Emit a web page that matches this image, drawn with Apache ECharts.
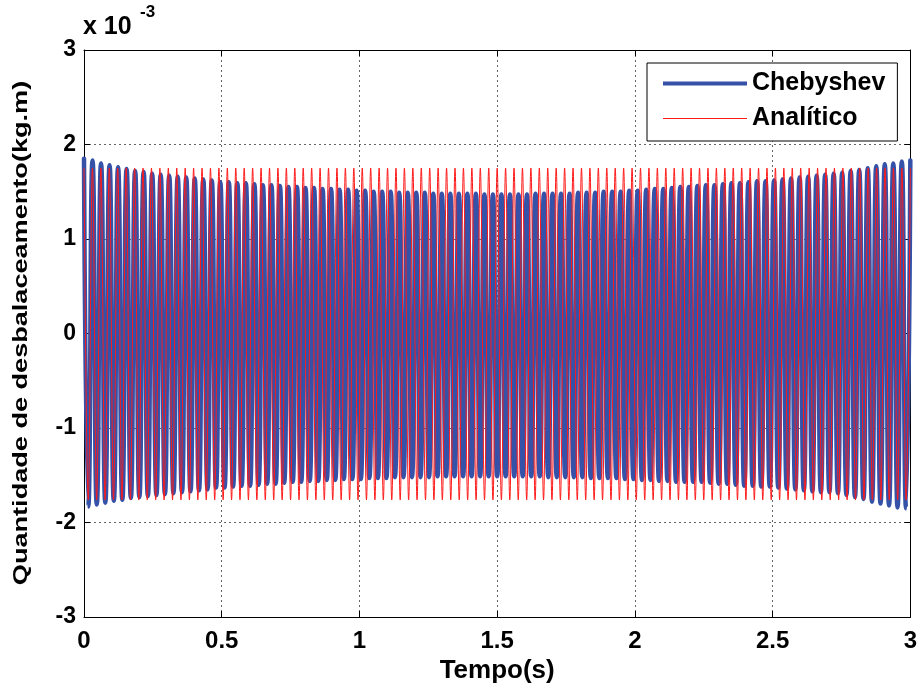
<!DOCTYPE html>
<html>
<head>
<meta charset="utf-8">
<script src="https://cdn.jsdelivr.net/npm/echarts@6/dist/echarts.min.js"></script>
<style>
html,body{margin:0;padding:0;background:#fff;}
#chart{width:920px;height:695px;}
</style>
</head>
<body>
<div id="chart"></div>
<script>
// Values in units of 1e-3 kg.m (axis multiplier "x 10^-3")
var xTicks = [0, 0.5, 1, 1.5, 2, 2.5, 3];
var yTicks = [-3, -2, -1, 0, 1, 2, 3];
var seriesNames = ['Chebyshev', 'Analítico'];
var timeSpan = 3; // seconds shown on the record

// Chebyshev: successive positive peaks (one per cycle), read from the envelope
var chebyshevMax = [
  1.85,1.83,1.80,1.78,1.76,1.74,1.72,1.71,1.69,1.68,
  1.67,1.66,1.65,1.64,1.63,1.62,1.60,1.60,1.59,1.59,
  1.58,1.57,1.57,1.56,1.55,1.55,1.54,1.54,1.53,1.53,
  1.52,1.52,1.51,1.51,1.50,1.50,1.50,1.49,1.49,1.49,
  1.49,1.48,1.48,1.48,1.48,1.48,1.48,1.47,1.47,1.47,
  1.47,1.47,1.47,1.48,1.48,1.48,1.48,1.48,1.49,1.49,
  1.49,1.50,1.50,1.50,1.51,1.51,1.52,1.53,1.53,1.54,
  1.55,1.55,1.56,1.57,1.57,1.58,1.59,1.59,1.60,1.61,
  1.61,1.62,1.63,1.64,1.65,1.66,1.67,1.68,1.69,1.70,
  1.72,1.73,1.75,1.77,1.79,1.80,1.82,1.83
];
// Chebyshev: successive negative peaks (between the positive ones)
var chebyshevMin = [
  -1.83,-1.81,-1.79,-1.77,-1.76,-1.74,-1.73,-1.72,-1.71,-1.70,
  -1.69,-1.68,-1.67,-1.66,-1.65,-1.63,-1.63,-1.62,-1.61,-1.61,
  -1.60,-1.59,-1.59,-1.58,-1.57,-1.57,-1.56,-1.56,-1.55,-1.55,
  -1.54,-1.54,-1.54,-1.53,-1.53,-1.53,-1.52,-1.52,-1.52,-1.52,
  -1.52,-1.51,-1.51,-1.51,-1.51,-1.51,-1.51,-1.51,-1.51,-1.51,
  -1.51,-1.51,-1.51,-1.51,-1.52,-1.52,-1.52,-1.52,-1.52,-1.53,
  -1.53,-1.53,-1.53,-1.54,-1.54,-1.55,-1.55,-1.56,-1.56,-1.57,
  -1.57,-1.57,-1.57,-1.58,-1.59,-1.59,-1.60,-1.61,-1.61,-1.62,
  -1.62,-1.63,-1.64,-1.65,-1.66,-1.67,-1.68,-1.68,-1.69,-1.71,
  -1.73,-1.75,-1.78,-1.80,-1.82,-1.84,-1.85
];
// Analítico: constant-amplitude peaks
var analiticoMax = [
  1.75,1.75,1.75,1.75,1.75,1.75,1.75,1.75,1.75,1.75,
  1.75,1.75,1.75,1.75,1.75,1.75,1.75,1.75,1.75,1.75,
  1.75,1.75,1.75,1.75,1.75,1.75,1.75,1.75,1.75,1.75,
  1.75,1.75,1.75,1.75,1.75,1.75,1.75,1.75,1.75,1.75,
  1.75,1.75,1.75,1.75,1.75,1.75,1.75,1.75,1.75,1.75,
  1.75,1.75,1.75,1.75,1.75,1.75,1.75,1.75,1.75,1.75,
  1.75,1.75,1.75,1.75,1.75,1.75,1.75,1.75,1.75,1.75,
  1.75,1.75,1.75,1.75,1.75,1.75,1.75,1.75,1.75,1.75,
  1.75,1.75,1.75,1.75,1.75,1.75,1.75,1.75,1.75,1.75,
  1.75,1.75,1.75,1.75,1.75,1.75,1.75,1.75,1.75
];
var analiticoMin = [
  -1.76,-1.76,-1.76,-1.76,-1.76,-1.76,-1.76,-1.76,-1.76,-1.76,
  -1.76,-1.76,-1.76,-1.76,-1.76,-1.76,-1.76,-1.76,-1.76,-1.76,
  -1.76,-1.76,-1.76,-1.76,-1.76,-1.76,-1.76,-1.76,-1.76,-1.76,
  -1.76,-1.76,-1.76,-1.76,-1.76,-1.76,-1.76,-1.76,-1.76,-1.76,
  -1.76,-1.76,-1.76,-1.76,-1.76,-1.76,-1.76,-1.76,-1.76,-1.76,
  -1.76,-1.76,-1.76,-1.76,-1.76,-1.76,-1.76,-1.76,-1.76,-1.76,
  -1.76,-1.76,-1.76,-1.76,-1.76,-1.76,-1.76,-1.76,-1.76,-1.76,
  -1.76,-1.76,-1.76,-1.76,-1.76,-1.76,-1.76,-1.76,-1.76,-1.76,
  -1.76,-1.76,-1.76,-1.76,-1.76,-1.76,-1.76,-1.76,-1.76,-1.76,
  -1.76,-1.76,-1.76,-1.76,-1.76,-1.76,-1.76,-1.76
];

// Interleave peaks: positive peak at start of each cycle, negative peak half a cycle later
function buildPeaks(maxArr, minArr) {
  var cycles = maxArr.length - 1;
  var period = timeSpan / cycles;
  var out = [];
  for (var k = 0; k < maxArr.length; k++) {
    out.push([k * period, maxArr[k]]);
    if (k < minArr.length) out.push([(k + 0.5) * period, minArr[k]]);
  }
  return out;
}

var FONT = '"Liberation Sans", Arial, Helvetica, sans-serif';
var chart = echarts.init(document.getElementById('chart'), null, {renderer: 'canvas'});
var grid = {left: 84, right: 9, top: 50, bottom: 78};

var option = {
  backgroundColor: '#ffffff',
  animation: false,
  grid: grid,
  legend: {
    data: [
      {name: seriesNames[0], icon: 'path://M0,0 L100,0 L100,5 L0,5 Z'},
      {name: seriesNames[1], icon: 'path://M0,0 L100,0 L100,1.2 L0,1.2 Z'}
    ],
    orient: 'vertical',
    left: 647,
    top: 63,
    itemWidth: 84,
    itemHeight: 28,
    itemGap: 10,
    padding: [8, 12, 10, 16],
    borderColor: '#000',
    borderWidth: 1,
    backgroundColor: '#fff',
    textStyle: {fontFamily: FONT, fontWeight: 'bold', fontSize: 25, color: '#000'}
  },
  xAxis: [{
    type: 'value', min: xTicks[0], max: xTicks[xTicks.length - 1], interval: 0.5,
    position: 'bottom',
    name: 'Tempo(s)', nameLocation: 'middle', nameGap: 40,
    nameTextStyle: {fontFamily: FONT, fontWeight: 'bold', fontSize: 26, color: '#000'},
    axisLine: {show: true, onZero: false, lineStyle: {color: '#000', width: 1}},
    axisTick: {show: true, inside: true, length: 6, lineStyle: {color: '#000'}},
    axisLabel: {fontFamily: FONT, fontWeight: 'bold', fontSize: 24, color: '#000', margin: 12},
    splitLine: {show: true, lineStyle: {color: '#666', width: 1, type: [2, 3]}}
  }, {
    type: 'value', min: xTicks[0], max: xTicks[xTicks.length - 1], interval: 0.5,
    position: 'top',
    axisLine: {show: true, onZero: false, lineStyle: {color: '#000', width: 1}},
    axisTick: {show: true, inside: true, length: 6, lineStyle: {color: '#000'}},
    axisLabel: {show: false},
    splitLine: {show: false}
  }],
  yAxis: [{
    type: 'value', min: yTicks[0], max: yTicks[yTicks.length - 1], interval: 1,
    position: 'left',
    axisLine: {show: true, onZero: false, lineStyle: {color: '#000', width: 1}},
    axisTick: {show: true, inside: true, length: 6, lineStyle: {color: '#000'}},
    axisLabel: {fontFamily: FONT, fontWeight: 'bold', fontSize: 23, color: '#000', margin: 8},
    splitLine: {show: true, lineStyle: {color: '#666', width: 1, type: [2, 3]}}
  }, {
    type: 'value', min: yTicks[0], max: yTicks[yTicks.length - 1], interval: 1,
    position: 'right',
    axisLine: {show: true, onZero: false, lineStyle: {color: '#000', width: 1}},
    axisTick: {show: true, inside: true, length: 6, lineStyle: {color: '#000'}},
    axisLabel: {show: false},
    splitLine: {show: false}
  }],
  series: [{
    name: seriesNames[0], type: 'line', xAxisIndex: 0, yAxisIndex: 0,
    data: buildPeaks(chebyshevMax, chebyshevMin),
    symbol: 'none', showSymbol: false, smooth: 0.6, silent: true,
    color: '#3552a8',
    lineStyle: {color: '#3552a8', width: 4.5, join: 'round', cap: 'round'},
    z: 2
  }, {
    name: seriesNames[1], type: 'line', xAxisIndex: 0, yAxisIndex: 0,
    data: buildPeaks(analiticoMax, analiticoMin),
    symbol: 'none', showSymbol: false, smooth: 0.4, silent: true,
    color: '#ff1a1a',
    lineStyle: {color: '#ff1a1a', width: 1, join: 'bevel'},
    z: 3
  }],
  graphic: [{
    type: 'text', left: 83, top: 15, silent: true,
    style: {text: 'x 10', font: 'bold 25px ' + FONT, fill: '#000'}
  }, {
    type: 'text', left: 140, top: 4, silent: true,
    style: {text: '-3', font: 'bold 17px ' + FONT, fill: '#000'}
  }, {
    type: 'text', x: 21, y: 333, rotation: Math.PI / 2, scaleX: 1.29, silent: true,
    style: {
      text: 'Quantidade de desbalaceamento(kg.m)', font: 'bold 21px ' + FONT, fill: '#000',
      align: 'center', verticalAlign: 'middle', textAlign: 'center', textVerticalAlign: 'middle'
    }
  }]
};
chart.setOption(option);
</script>
</body>
</html>
